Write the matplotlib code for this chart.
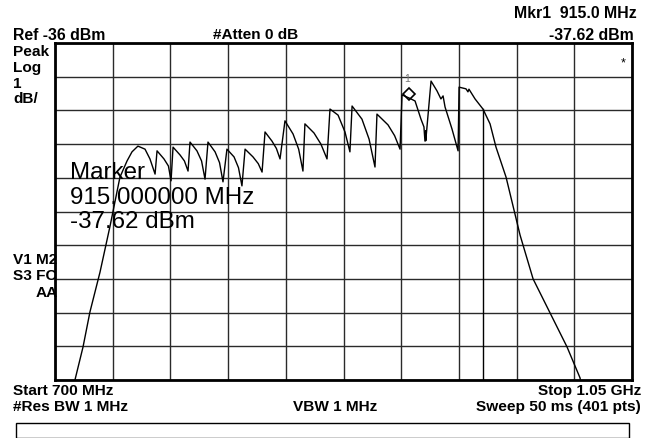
import matplotlib
matplotlib.use("Agg")
import matplotlib.pyplot as plt
from matplotlib.patches import Rectangle
import numpy as np

# ---- instrument settings ----
start_mhz = 700.0
stop_mhz = 1050.0
ref_dbm = -36.0
db_per_div = 1.0
n_div = 10

trace_freq = [709.0, 712.1, 717.0, 721.2, 727.3, 733.4, 739.4, 743.7, 746.7, 750.3, 754.6, 757.6, 760.7,
              761.9, 766.1, 768.8, 770.4,
              771.6, 775.8, 778.5, 780.7,
              781.9, 786.1, 788.9, 791.0,
              792.8, 797.1, 799.8, 801.9,
              804.3, 808.6, 811.3, 813.4,
              815.3, 820.1, 823.3, 825.6,
              827.4, 831.6, 834.3, 836.5,
              839.5, 844.4, 847.8, 850.4,
              851.6, 857.1, 861.3, 865.0,
              866.8, 871.7, 875.9, 878.9,
              880.2, 886.2, 890.5, 894.1,
              895.3, 902.0, 906.0, 909.3,
              910.5, 914.7, 918.4, 922.0, 923.8, 924.4, 925.0, 924.9,
              928.1, 931.7, 934.1, 935.4, 936.6, 940.8, 944.5,
              945.1, 949.3, 950.5, 951.1, 954.8, 959.6,
              963.9, 967.5, 973.6, 982.1, 990.0, 1000.3, 1010.6, 1018.5, 1020.5]
trace_dbm = [-46.8, -46.0, -45.02, -43.98, -42.80, -41.43, -39.98, -39.50, -39.23, -39.06, -39.15, -39.44, -39.89,
             -39.20, -39.44, -39.65, -40.09,
             -39.09, -39.32, -39.50, -39.80,
             -38.94, -39.20, -39.50, -40.04,
             -38.94, -39.23, -39.55, -40.12,
             -39.15, -39.38, -39.70, -40.24,
             -39.15, -39.38, -39.58, -39.83,
             -38.64, -38.91, -39.13, -39.44,
             -38.31, -38.70, -39.15, -39.80,
             -38.40, -38.67, -39.00, -39.44,
             -37.96, -38.14, -38.64, -39.23,
             -37.87, -38.26, -38.85, -39.68,
             -38.11, -38.43, -38.75, -39.15,
             -37.54, -37.63, -37.72, -38.26, -38.49, -38.91, -38.60, -38.90,
             -37.13, -37.42, -37.66, -37.57, -37.90, -38.55, -39.20,
             -37.31, -37.36, -37.45, -37.37, -37.66, -37.96,
             -38.40, -39.09, -39.98, -41.70, -43.00, -44.01, -45.02, -45.94, -46.6]

# ---- second trace: drops off screen ----
trace2_freq = [959.6, 959.6]
trace2_dbm = [-37.96, -46.8]

# ---- marker ----
mkr_freq = 915.0
mkr_dbm = -37.62

W, H = 655, 439
fig = plt.figure(figsize=(W / 100, H / 100), dpi=100)
fig.patch.set_facecolor("white")

L, R, T, B = 55, 632, 44, 381
ax = fig.add_axes([L / W, 1 - B / H, (R - L) / W, (B - T) / H])
bottom_dbm = ref_dbm - n_div * db_per_div
ax.set_xlim(start_mhz, stop_mhz)
ax.set_ylim(bottom_dbm, ref_dbm)
ax.set_xticks(np.linspace(start_mhz, stop_mhz, n_div + 1))
ax.set_yticks(np.linspace(bottom_dbm, ref_dbm, n_div + 1))
ax.tick_params(length=0, labelbottom=False, labelleft=False)
ax.grid(True, color="#2a2a2a", linewidth=1.0)
ax.set_axisbelow(True)
for s in ax.spines.values():
    s.set_linewidth(2.0)
    s.set_color("black")

ax.plot(trace_freq, trace_dbm, color="black", linewidth=1.0, clip_on=True)
ax.plot(trace2_freq, trace2_dbm, color="black", linewidth=1.0, clip_on=True)
ax.plot([mkr_freq], [mkr_dbm + 0.12], marker="D", markersize=6, markerfacecolor="none",
        markeredgecolor="black", markeredgewidth=1.2, linestyle="none")
ax.text(mkr_freq - 1.5, mkr_dbm + 0.42, "1", fontsize=7.5, color="#777777", ha="center", va="bottom",
        family="Liberation Sans")

# ---- annotations ----
fam = ["Liberation Sans", "DejaVu Sans"]


def ftext(x, y, s, ha="left", size=11.1, weight="bold", **kw):
    fig.text(x / W, 1 - y / H, s, ha=ha, va="center", fontsize=size, fontweight=weight,
             family=fam, **kw)


ftext(637, 14, "Mkr1  915.0 MHz", ha="right", size=11.4)
ftext(13, 35, "Ref -36 dBm", size=11.4)
ftext(213, 35, "#Atten 0 dB")
ftext(634, 35, "-37.62 dBm", ha="right", size=11.4)
ftext(13, 52, "Peak")
ftext(13, 68, "Log")
ftext(13, 84, "1")
ftext(13, 99, "dB/")
ftext(13, 260, "V1 M2")
ftext(13, 276, "S3 FC")
ftext(58, 293, "AA", ha="right")
ftext(621, 63, "*", size=9, weight="normal")
ftext(13, 391, "Start 700 MHz")
ftext(641, 391, "Stop 1.05 GHz", ha="right")
ftext(13, 407, "#Res BW 1 MHz")
ftext(335, 407, "VBW 1 MHz", ha="center")
ftext(641, 407, "Sweep 50 ms (401 pts)", ha="right")

ftext(70, 173, "Marker", size=17.4, weight="normal")
ftext(70, 198, "915.000000 MHz", size=17.4, weight="normal")
ftext(70, 222, "-37.62 dBm", size=17.4, weight="normal")

# bottom message box
fig.patches.append(Rectangle((16 / W, 0), (629 - 16) / W, (H - 428) / H + 0.01,
                             transform=fig.transFigure, fill=False, edgecolor="black",
                             linewidth=1.0, clip_on=False))

fig.savefig("out.png", dpi=100, facecolor="white")
